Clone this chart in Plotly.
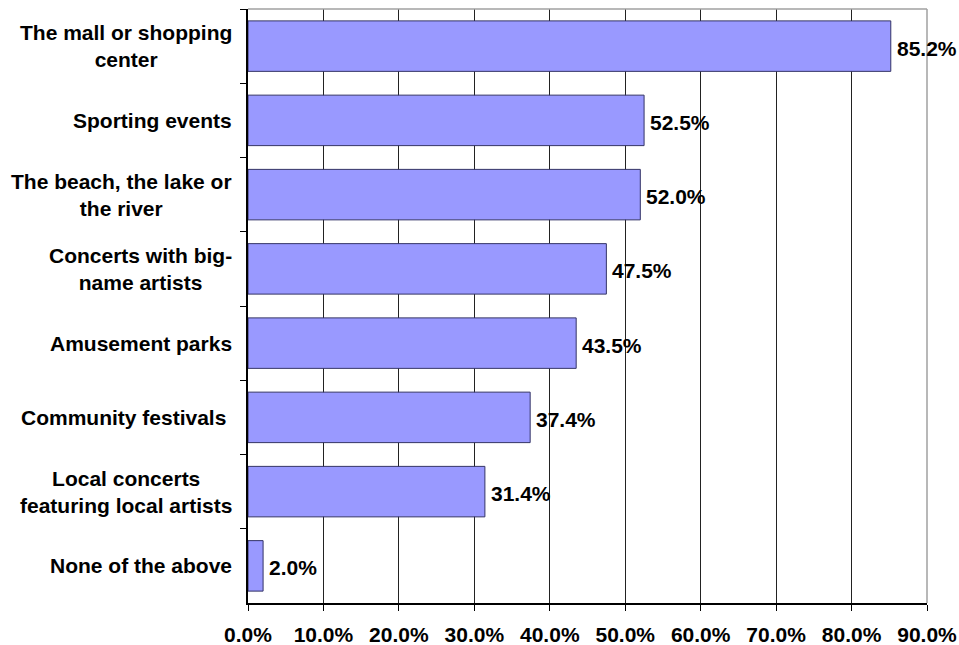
import plotly.graph_objects as go

# Survey results: places visited
categories = [
    "The mall or shopping<br>center",
    "Sporting events",
    "The beach, the lake or<br>the river",
    "Concerts with big-<br>name artists",
    "Amusement parks",
    "Community festivals\u00a0",
    "Local concerts<br>featuring local artists",
    "None of the above",
]
values = [85.2, 52.5, 52.0, 47.5, 43.5, 37.4, 31.4, 2.0]
x_ticks = [0, 10, 20, 30, 40, 50, 60, 70, 80, 90]
x_tick_labels = [f"{v:.1f}%" for v in x_ticks]

FONT = "Liberation Sans, Arial, sans-serif"
FS = 21

fig = go.Figure(
    go.Bar(
        x=values,
        y=categories,
        orientation="h",
        marker=dict(color="#9999FF", line=dict(color="#333366", width=1)),
        width=0.68,
        hoverinfo="skip",
    )
)

# Category labels, centred multi-line text right-aligned against the axis
for cat in categories:
    fig.add_annotation(
        x=0, xref="paper", y=cat, yref="y",
        text=f"<b>{cat}</b>", showarrow=False,
        xanchor="right", yanchor="middle", align="center",
        xshift=-14,
        font=dict(family=FONT, size=FS, color="#000000"),
    )

# Value labels just past the end of each bar
for cat, v in zip(categories, values):
    fig.add_annotation(
        x=v, xref="x", y=cat, yref="y",
        text=f"<b>{v:.1f}%</b>", showarrow=False,
        xanchor="left", yanchor="middle", xshift=4, yshift=-2,
        font=dict(family=FONT, size=FS, color="#000000"),
    )

# Light frame on the top and right of the plot area
fig.add_shape(type="line", xref="paper", yref="paper", x0=0, x1=1, y0=1, y1=1,
              line=dict(color="#a0a0a0", width=1.5))
fig.add_shape(type="line", xref="paper", yref="paper", x0=1, x1=1, y0=0, y1=1,
              line=dict(color="#a0a0a0", width=1.5))

fig.update_layout(
    width=959, height=645,
    margin=dict(l=248, r=32, t=9, b=42),
    paper_bgcolor="white", plot_bgcolor="white",
    showlegend=False,
    xaxis=dict(
        range=[0, 90], tickvals=x_ticks, ticktext=[f"<b>{t}</b>" for t in x_tick_labels],
        showgrid=True, gridcolor="#222222", gridwidth=1,
        showline=True, linecolor="#000000", linewidth=1.5,
        ticks="outside", ticklen=6, tickcolor="#000000",
        ticklabelstandoff=6,
        tickfont=dict(family=FONT, size=FS, color="#000000"),
        zeroline=False, fixedrange=True, automargin=False,
    ),
    yaxis=dict(
        categoryorder="array", categoryarray=categories, autorange="reversed",
        showticklabels=False, tickson="boundaries",
        ticks="outside", ticklen=6, tickcolor="#000000",
        showgrid=False, showline=True, linecolor="#000000", linewidth=1.5,
        zeroline=False, fixedrange=True, automargin=False,
    ),
)

fig.write_html("out.html")
